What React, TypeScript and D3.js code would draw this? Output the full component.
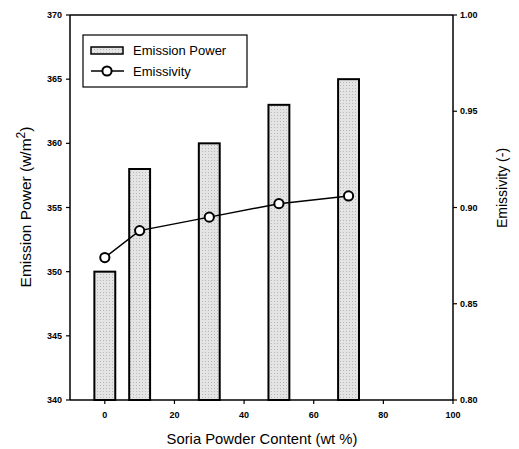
import React from "react";
import * as d3 from "d3";

const contents = [0, 10, 30, 50, 70];
const emissionPower = [350, 358, 360, 363, 365];
const emissivity = [0.874, 0.888, 0.895, 0.902, 0.906];
const xTicks = [0, 20, 40, 60, 80, 100];
const leftTicks = [340, 345, 350, 355, 360, 365, 370];
const rightTicks = [0.8, 0.85, 0.9, 0.95, 1.0];

const W = 519, H = 449;
const m = { left: 70, right: 453, top: 15, bottom: 400 };

export default function App() {
  const x = d3.scaleLinear().domain([-10, 100]).range([m.left, m.right]);
  const yL = d3.scaleLinear().domain([340, 370]).range([m.bottom, m.top]);
  const yR = d3.scaleLinear().domain([0.8, 1.0]).range([m.bottom, m.top]);
  const barHalf = x(3) - x(0);
  const line = d3.line<number>().x((_, i) => x(contents[i])).y((d) => yR(d));
  const font = "'Liberation Sans', Arial, sans-serif";
  return (
    <svg width={W} height={H} style={{ position: "absolute", left: 0, top: 0, background: "#fff" }} fontFamily={font}>
      <defs>
        <pattern id="stip" width="3" height="3" patternUnits="userSpaceOnUse">
          <rect width="3" height="3" fill="#e4e4e4" />
          <rect x="1" y="1" width="1" height="1" fill="#b8b8b8" />
        </pattern>
      </defs>
      {contents.map((c, i) => (
        <rect key={c} x={x(c) - barHalf} y={yL(emissionPower[i])} width={barHalf * 2}
          height={m.bottom - yL(emissionPower[i])} fill="url(#stip)" stroke="#000" strokeWidth={2} />
      ))}
      <line x1={m.left} x2={m.right} y1={m.top} y2={m.top} stroke="#000" strokeWidth={1.5} />
      <line x1={m.left} x2={m.right} y1={m.bottom} y2={m.bottom} stroke="#000" strokeWidth={1.5} />
      <line x1={m.left} x2={m.left} y1={m.top} y2={m.bottom} stroke="#000" strokeWidth={1.5} />
      <line x1={m.right} x2={m.right} y1={m.top} y2={m.bottom} stroke="#000" strokeWidth={1.5} />
      <path d={line(emissivity) || ""} fill="none" stroke="#000" strokeWidth={1.5} />
      {emissivity.map((e, i) => (
        <circle key={i} cx={x(contents[i])} cy={yR(e)} r={4.6} fill="#fff" stroke="#000" strokeWidth={2} />
      ))}
      {leftTicks.map((t) => (
        <g key={t}>
          <line x1={m.left - 4} x2={m.left} y1={yL(t)} y2={yL(t)} stroke="#000" strokeWidth={1.2} />
          <text x={m.left - 8} y={yL(t)} dy="0.35em" textAnchor="end" fontSize={9} fontWeight="bold">{t}</text>
        </g>
      ))}
      {rightTicks.map((t) => (
        <g key={t}>
          <line x1={m.right} x2={m.right + 4} y1={yR(t)} y2={yR(t)} stroke="#000" strokeWidth={1.2} />
          <text x={m.right + 7} y={yR(t)} dy="0.35em" textAnchor="start" fontSize={9} fontWeight="bold">{t.toFixed(2)}</text>
        </g>
      ))}
      {xTicks.map((t) => (
        <g key={t}>
          <line x1={x(t)} x2={x(t)} y1={m.bottom} y2={m.bottom + 4} stroke="#000" strokeWidth={1.2} />
          <text x={x(t)} y={m.bottom + 18} textAnchor="middle" fontSize={9} fontWeight="bold">{t}</text>
        </g>
      ))}
      <text x={262} y={444} textAnchor="middle" fontSize={14.8}>Soria Powder Content (wt %)</text>
      <text transform={`translate(31, 207) rotate(-90)`} textAnchor="middle" fontSize={15.5}>
        Emission Power (w/m<tspan dy="-6" fontSize={12}>2</tspan><tspan dy="6">)</tspan>
      </text>
      <text transform={`translate(507, 188) rotate(-90)`} textAnchor="middle" fontSize={14}>Emissivity (-)</text>
      <rect x={83} y={35} width={164} height={52} fill="#fff" stroke="#000" strokeWidth={1.2} />
      <rect x={91} y={47} width={32} height={7} fill="url(#stip)" stroke="#000" strokeWidth={1.5} />
      <text x={133} y={55} fontSize={13}>Emission Power</text>
      <line x1={91} x2={124} y1={71} y2={71} stroke="#000" strokeWidth={1.5} />
      <circle cx={107} cy={71} r={4.6} fill="#fff" stroke="#000" strokeWidth={2} />
      <text x={133} y={76} fontSize={13}>Emissivity</text>
    </svg>
  );
}
